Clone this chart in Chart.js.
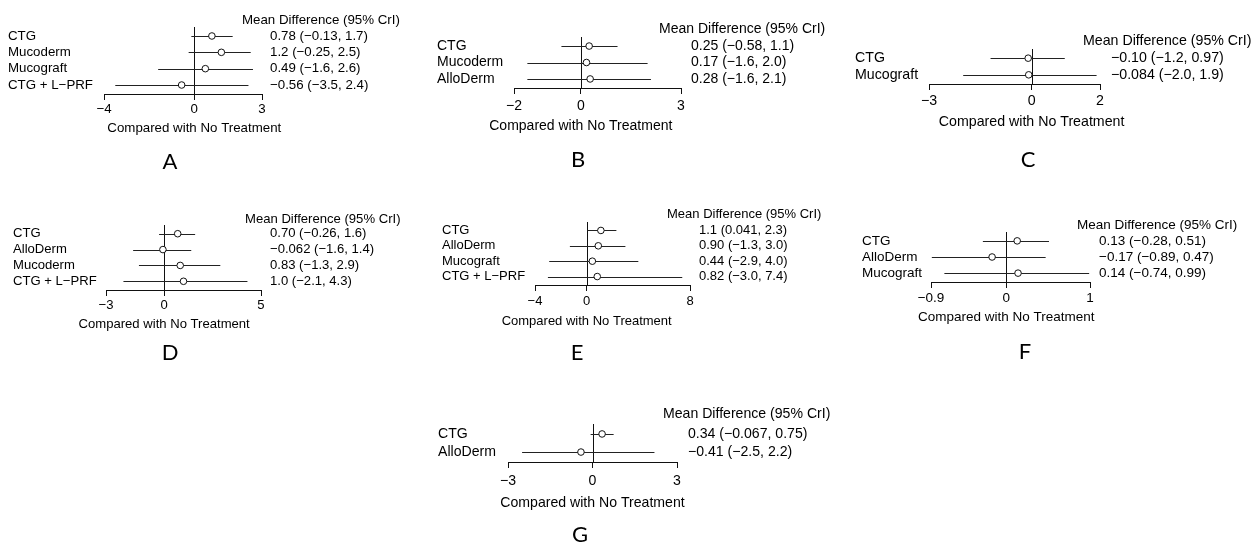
<!DOCTYPE html>
<html>
<head>
<meta charset="utf-8">
<script src="https://cdn.jsdelivr.net/npm/chart.js@4.4.1/dist/chart.umd.min.js"></script>
<style>
  html, body { margin: 0; padding: 0; background: #fff; }
  #wrap { position: relative; width: 1255px; height: 544px; }
  #wrap canvas { position: absolute; left: 0; top: 0; }
</style>
</head>
<body>
<div id="wrap"></div>
<script>
const panelIds = ['A', 'B', 'C', 'D', 'E', 'F', 'G'];

const treatments = [
  ['CTG', 'Mucoderm', 'Mucograft', 'CTG + L-PRF'],
  ['CTG', 'Mucoderm', 'AlloDerm'],
  ['CTG', 'Mucograft'],
  ['CTG', 'AlloDerm', 'Mucoderm', 'CTG + L-PRF'],
  ['CTG', 'AlloDerm', 'Mucograft', 'CTG + L-PRF'],
  ['CTG', 'AlloDerm', 'Mucograft'],
  ['CTG', 'AlloDerm'],
];

// mean difference and 95% CrI, kept as printed in the figure
const meanDiff = [
  ['0.78', '1.2', '0.49', '-0.56'],
  ['0.25', '0.17', '0.28'],
  ['-0.10', '-0.084'],
  ['0.70', '-0.062', '0.83', '1.0'],
  ['1.1', '0.90', '0.44', '0.82'],
  ['0.13', '-0.17', '0.14'],
  ['0.34', '-0.41'],
];
const crLow = [
  ['-0.13', '-0.25', '-1.6', '-3.5'],
  ['-0.58', '-1.6', '-1.6'],
  ['-1.2', '-2.0'],
  ['-0.26', '-1.6', '-1.3', '-2.1'],
  ['0.041', '-1.3', '-2.9', '-3.0'],
  ['-0.28', '-0.89', '-0.74'],
  ['-0.067', '-2.5'],
];
const crHigh = [
  ['1.7', '2.5', '2.6', '2.4'],
  ['1.1', '2.0', '2.1'],
  ['0.97', '1.9'],
  ['1.6', '1.4', '2.9', '4.3'],
  ['2.3', '3.0', '4.0', '7.4'],
  ['0.51', '0.47', '0.99'],
  ['0.75', '2.2'],
];
const xTicks = [
  [-4, 0, 3],
  [-2, 0, 3],
  [-3, 0, 2],
  [-3, 0, 5],
  [-4, 0, 8],
  [-0.9, 0, 1],
  [-3, 0, 3],
];

const headerText = 'Mean Difference (95% CrI)';
const xTitle = 'Compared with No Treatment';

// where each panel sits on the page (px)
const layout = [
  {x0: 104, x1: 262, top: 27, axis: 94, labelX: 8, valueX: 270, headX: 242, headY: 20, xlabY: 128, letX: 170, letY: 162, fs: 13.3, tickPad: 1},
  {x0: 514, x1: 681, top: 37, axis: 88, labelX: 437, valueX: 691, headX: 659, headY: 29, xlabY: 126, letX: 578, letY: 160, fs: 14, tickPad: 3.5},
  {x0: 929, x1: 1100, top: 49, axis: 84, labelX: 855, valueX: 1111, headX: 1083, headY: 41, xlabY: 122, letX: 1028, letY: 160, fs: 14.2, tickPad: 2.5},
  {x0: 106, x1: 261, top: 225, axis: 290, labelX: 13, valueX: 270, headX: 245, headY: 219, xlabY: 324, letX: 170, letY: 353, fs: 13.1, tickPad: 2},
  {x0: 535, x1: 690, top: 222, axis: 285, labelX: 442, valueX: 699, headX: 667, headY: 214, xlabY: 321, letX: 577, letY: 353, fs: 13, tickPad: 3},
  {x0: 931, x1: 1090, top: 232, axis: 282, labelX: 862, valueX: 1099, headX: 1077, headY: 225, xlabY: 317, letX: 1025, letY: 352, fs: 13.5, tickPad: 2.5},
  {x0: 508, x1: 677, top: 424, axis: 462, labelX: 438, valueX: 688, headX: 663, headY: 414, xlabY: 503, letX: 580, letY: 535, fs: 14.1, tickPad: 4.5},
];

const W = 1255, H = 544, AXIS_H = 50;
const FONT = '"Liberation Sans", Arial, Helvetica, sans-serif';
const minus = s => String(s).replace(/-/g, '\u2212');

const forestPlugin = {
  id: 'forest',
  beforeDatasetsDraw(chart, args, opts) {
    const p = opts.panel;
    const {ctx, chartArea, scales: {x, y}} = chart;
    ctx.save();
    ctx.strokeStyle = '#111';
    ctx.lineWidth = 1;
    // line of no effect
    const zx = Math.round(x.getPixelForValue(0)) + 0.5;
    ctx.beginPath();
    ctx.moveTo(zx, chartArea.top);
    ctx.lineTo(zx, chartArea.bottom);
    ctx.stroke();
    // credible intervals
    ctx.strokeStyle = '#222';
    crLow[p].forEach((lo, i) => {
      const py = Math.round(y.getPixelForValue(i)) + 0.5;
      ctx.beginPath();
      ctx.moveTo(x.getPixelForValue(Number(lo)), py);
      ctx.lineTo(x.getPixelForValue(Number(crHigh[p][i])), py);
      ctx.stroke();
    });
    ctx.restore();
  },
  afterDraw(chart, args, opts) {
    const p = opts.panel;
    const L = layout[p];
    const {ctx, scales: {x, y}} = chart;
    ctx.save();
    ctx.fillStyle = '#000';
    ctx.textBaseline = 'middle';
    ctx.font = L.fs + 'px ' + FONT;
    ctx.textAlign = 'left';
    treatments[p].forEach((name, i) => {
      const py = y.getPixelForValue(i);
      ctx.fillText(minus(name), L.labelX, py);
      const txt = minus(meanDiff[p][i]) + ' (' + minus(crLow[p][i]) + ', ' + minus(crHigh[p][i]) + ')';
      ctx.fillText(txt, L.valueX, py);
    });
    ctx.fillText(headerText, L.headX, L.headY);
    ctx.textAlign = 'center';
    ctx.fillText(xTitle, x.getPixelForValue(0), L.xlabY);
    ctx.font = '22px Lato, "Open Sans", sans-serif';
    ctx.fillText(panelIds[p], L.letX, L.letY);
    ctx.restore();
  }
};

const wrap = document.getElementById('wrap');

panelIds.forEach((id, p) => {
  const L = layout[p];
  const n = treatments[p].length;
  const canvas = document.createElement('canvas');
  canvas.width = W;
  canvas.height = H;
  canvas.style.width = W + 'px';
  canvas.style.height = H + 'px';
  wrap.appendChild(canvas);

  new Chart(canvas, {
    type: 'scatter',
    data: {
      datasets: [{
        data: meanDiff[p].map((m, i) => ({x: Number(m), y: i})),
        pointRadius: 3.3,
        pointBackgroundColor: '#fff',
        pointBorderColor: '#111',
        pointBorderWidth: 1,
      }]
    },
    options: {
      responsive: false,
      animation: false,
      events: [],
      layout: {
        padding: {left: L.x0, right: W - L.x1, top: L.top, bottom: H - L.axis - AXIS_H}
      },
      plugins: {
        legend: {display: false},
        tooltip: {enabled: false},
        forest: {panel: p},
      },
      scales: {
        x: {
          type: 'linear',
          min: xTicks[p][0],
          max: xTicks[p][xTicks[p].length - 1],
          afterBuildTicks: (scale) => { scale.ticks = xTicks[p].map(v => ({value: v})); },
          afterFit: (scale) => { scale.height = AXIS_H; },
          border: {display: true, color: '#111', width: 1},
          grid: {drawOnChartArea: false, drawTicks: true, tickLength: 6, color: '#111', lineWidth: 1},
          ticks: {
            color: '#000',
            font: {family: FONT, size: L.fs},
            padding: L.tickPad,
            maxRotation: 0,
            autoSkip: false,
            callback: (v) => minus(v),
          },
        },
        y: {
          type: 'linear',
          reverse: true,
          min: -0.55,
          max: n - 1 + 0.55,
          display: false,
        }
      }
    },
    plugins: [forestPlugin]
  });
});
</script>
</body>
</html>
